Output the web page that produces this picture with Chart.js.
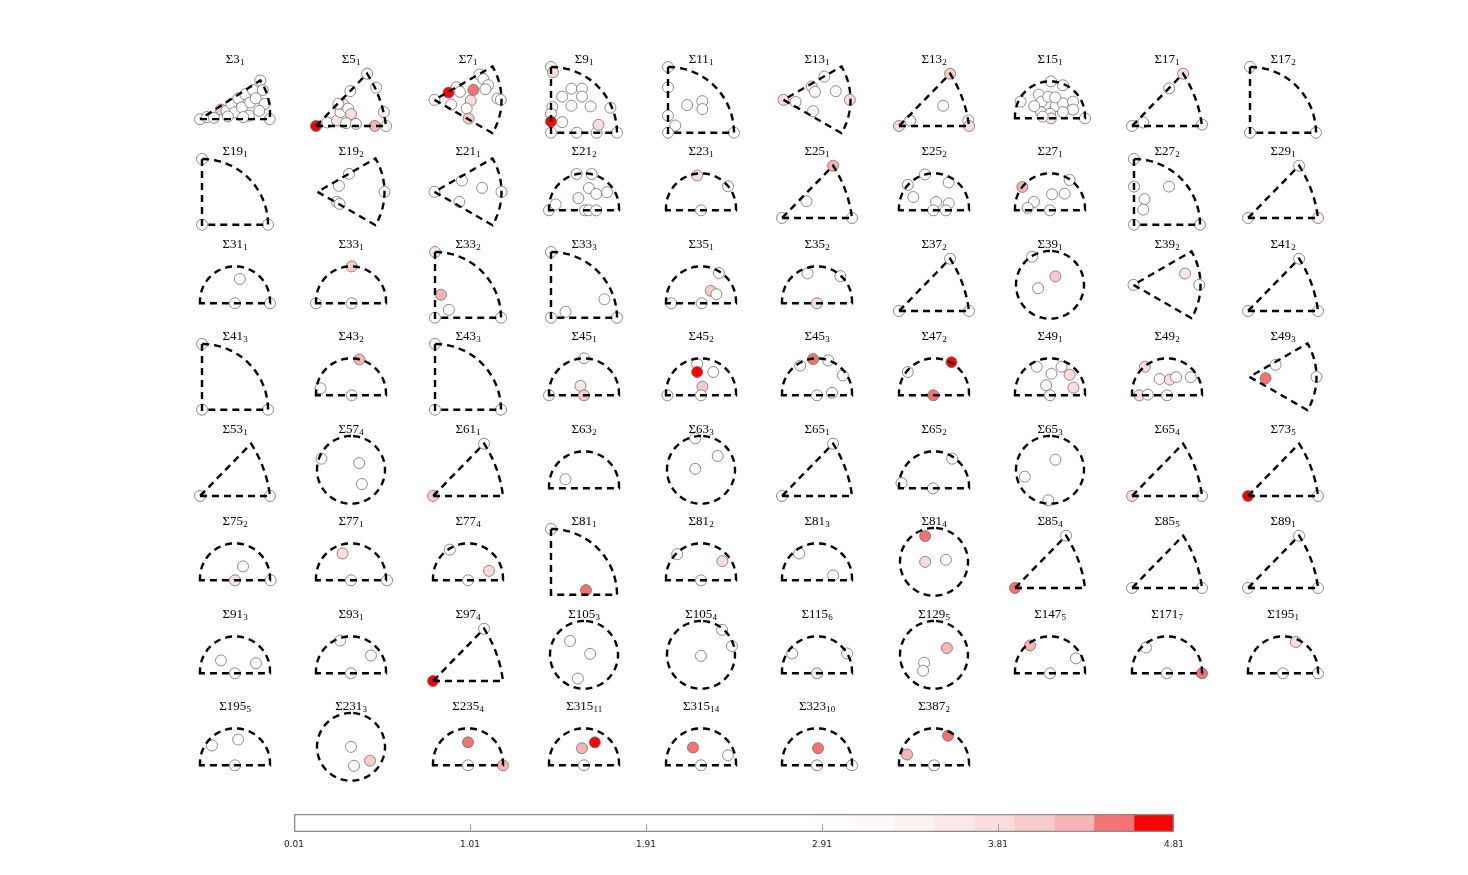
<!DOCTYPE html>
<html><head><meta charset="utf-8">
<script src="https://cdn.jsdelivr.net/npm/chart.js@4.4.1/dist/chart.umd.min.js"></script>
<style>
html,body{margin:0;padding:0;background:#fff;}
#fig{position:relative;width:1468px;height:875px;overflow:hidden;background:#fff;}
#fig canvas{position:absolute;}
</style></head><body><div id="fig"></div>
<script>
// ---------- DATA ----------
const sigmaNum = [3,5,7,9,11,13,13,15,17,17, 19,19,21,21,23,25,25,27,27,29, 31,33,33,33,35,35,37,39,39,41,
  41,43,43,45,45,45,47,49,49,49, 53,57,61,63,63,65,65,65,65,73, 75,77,77,81,81,81,81,85,85,89,
  91,93,97,105,105,115,129,147,171,195, 195,231,235,315,315,323,387];
const sigmaSub = [1,1,1,1,1,1,2,1,1,2, 1,2,1,2,1,1,2,1,2,1, 1,1,2,3,1,2,2,1,2,2,
  3,2,3,1,2,3,2,1,2,3, 1,4,1,2,3,1,2,3,4,5, 2,1,4,1,2,3,4,4,5,1,
  3,1,4,3,4,6,5,5,7,1, 5,3,4,11,14,10,2];
const shapeType = [
  'tri3','tri','sector','quarter','quarter','sector','tri','semi','tri','quarter',
  'quarter','sector','sector','semi','semi','tri','semi','semi','quarter','tri',
  'semi','semi','quarter','quarter','semi','semi','tri','circle','sector','tri',
  'quarter','semi','quarter','semi','semi','semi','semi','semi','semi','sector',
  'tri','circle','tri','semi','circle','tri','semi','circle','tri','tri',
  'semi','semi','semi','quarter','semi','semi','circle','tri','tri','tri',
  'semi','semi','tri','circle','circle','semi','circle','semi','semi','semi',
  'semi','circle','semi','semi','semi','semi','semi'];
const ptX = [
 [0,0.1,0.2,0.3,0.38,0.45,0.5,0.55,0.6,0.65,0.7,0.72,0.76,0.8,0.865,0.9,0.93,0.85,1,0.62,0.4],
 [0,0.16,0.3,0.35,0.39,0.49,0.32,0.46,0.5,0.43,0.57,0.73,0.86,0.97,0.84,1],
 [0,0.21,0.33,0.38,0.67,0.73,0.8,0.58,0.54,0.76,0.94,0.99,0.25,0.48,0.51],
 [0,0.03,0.17,0.31,0.47,0.47,0.31,0.6,0.9,0.02,0,0,0.17,0,0.39,0.69,0.72,1],
 [0,0,0,0.11,0,0.29,0.52,0.52,1],
 [0,0.18,0.42,0.47,0.61,0.78,0.99,0.44],
 [0.73,0.16,0,0.63,0.99,1],
 [-0.84,0.03,0.37,-0.32,-0.24,-0.05,0.16,0.37,0.66,0.66,-0.26,0,0.37,0.03,-0.21,1,-0.45,0.15],
 [0.73,0.53,0.16,0,1],
 [0,0,1],
 [0,0,1],
 [0.47,0.32,0.29,0.33,1],
 [0,0.41,0.71,1,0.37],
 [-1,-0.81,-0.21,0.22,0.14,0.35,0.66,-0.16,0.03,0.14,0.35],
 [-0.11,0.77,0],
 [0.73,0.35,0,1],
 [-0.75,-0.26,0.42,-0.59,0.06,0.42,-0.02,0.34],
 [-0.79,0.56,0.06,0.42,-0.46,-0.64,0],
 [0,0,0.16,0.14,0.53,0,1],
 [0.73,0,1],
 [0.14,0,1],
 [0.02,-1,0.02],
 [0,0.09,0.21,0,1],
 [0,0.22,0.81,0,1],
 [0.51,0.28,0.44,-0.85,0.02],
 [-0.27,0.67,0],
 [0.73,0,1],
 [-0.53,0.16,-0.35],
 [0,0.77,0.98],
 [0.73,0,1],
 [0,0,1],
 [0.24,-0.87,0.02],
 [0,0,1],
 [0,-0.1,0,-1],
 [-0.11,-0.11,0.35,0.04,0,-0.96],
 [-0.48,-0.11,0.32,0.74,0,0.43],
 [-0.75,0.5,-0.02],
 [-0.38,0.33,0.04,0.56,-0.11,0.67,0],
 [-0.63,-0.21,0.08,0.26,0.68,-0.79,-0.55,0],
 [0.39,0.24,1],
 [0,1],
 [-0.87,0.24,0.32],
 [0.73,0],
 [-0.53],
 [-0.17,0.49,-0.17],
 [0.73,0],
 [0.52,-0.93,-0.03],
 [0.16,-0.74,-0.05],
 [0,1],
 [0,1],
 [0.23,0,1.02],
 [-0.24,0,1.03],
 [-0.52,0.6,0],
 [0,0.53],
 [-0.68,0.61,0],
 [-0.51,0.46],
 [-0.26,-0.26,0.35],
 [0,0.73],
 [0,1],
 [0,0.73,1],
 [-0.4,0.6,0],
 [-0.31,0.57,0],
 [0,0.73],
 [-0.41,0.18,-0.18],
 [0.62,0.91,0],
 [-0.71,0.86,0],
 [0.38,-0.29,-0.32],
 [-0.57,0.74,0],
 [-0.6,0,1],
 [0.37,0,1],
 [-0.66,0.09,0],
 [0,0.09,0.56],
 [0,0,1],
 [-0.06,0.31,0],
 [-0.23,0.77,0],
 [0.03,0,1],
 [0.4,-0.77,0]];
const ptY = [
 [0,0.03,0.02,0.14,0.12,0.22,0.1,0.3,0.17,0.36,0.05,0.24,0.42,0.3,0.557,0.42,0.22,0.12,0,0.03,0.04],
 [0,0.05,0.08,0.2,0.31,0.5,0.32,0.25,0.17,0.04,0.03,0.75,0.55,0.2,0,0],
 [0,0.11,0.19,0.12,0.38,0.31,0.22,0.15,-0.01,0.16,0.02,0,-0.07,-0.13,-0.28],
 [1,0.92,0.55,0.67,0.67,0.55,0.41,0.4,0.38,0.39,0.29,0.17,0.16,0,0,0,0.12,0],
 [1,0.69,0.26,0.11,0,0.42,0.48,0.36,0],
 [0,-0.03,0.2,0.12,0.35,0.13,0,-0.17],
 [0.75,0.08,0,0.29,0.08,0],
 [0.48,1.06,0.95,0.68,0.48,0.62,0.35,0.43,0.48,0.25,0.18,0.13,0.18,0,0.05,0,0.35,0.6],
 [0.75,0.54,0.05,0,0.02],
 [1,0,0],
 [1,0,0],
 [0.27,0.09,-0.15,-0.18,0],
 [0,0.17,0.06,0,-0.15],
 [0,0.17,1.04,1.04,0.64,0.47,0.52,0.35,0,0,0],
 [1.0,0.69,0],
 [0.75,0.24,0,0],
 [0.73,1.03,0.8,0.38,0.24,0.2,0,0],
 [0.67,0.87,0.46,0.48,0.24,0.07,0],
 [1,0.58,0.39,0.23,0.58,0,0],
 [0.75,0,0],
 [0.7,0,0],
 [1.06,0,0],
 [1,0.35,0.12,0,0],
 [1,0.09,0.28,0,0],
 [0.87,0.36,0.26,0,0],
 [0.86,0.78,0],
 [0.75,0,0],
 [0.83,0.25,-0.1],
 [0,0.17,0],
 [0.75,0,0],
 [1,0,0],
 [1.03,0.2,0],
 [1,0,0],
 [1.06,0.27,0,0],
 [0.9,0.67,0.67,0.25,0,0],
 [0.85,1.04,1.0,0.57,0,0.07],
 [0.67,0.95,0],
 [0.82,0.82,0.62,0.59,0.29,0.22,0],
 [0.82,0.47,0.45,0.52,0.52,0,0.02,0],
 [0.18,-0.02,0],
 [0,0],
 [0.33,0.2,-0.42],
 [0.75,0],
 [0.26],
 [0.93,0.41,0.03],
 [0.75,0],
 [0.85,0.15,0],
 [0.3,-0.2,-0.9],
 [0,0],
 [0,0],
 [0.4,0,0],
 [0.77,0,0],
 [0.88,0.27,0],
 [1,0.07],
 [0.75,0.55,0],
 [0.77,0.14],
 [0.76,0,0.06],
 [0,0.75],
 [0,0],
 [0,0.75,0],
 [0.37,0.29,0],
 [0.94,0.51,0],
 [0,0.75],
 [0.41,0.03,-0.7],
 [0.74,0.26,-0.03],
 [0.57,0.57,0],
 [0.2,-0.23,-0.47],
 [0.8,0.43,0],
 [0.74,0,0],
 [0.9,0,0],
 [0.57,0.74,0],
 [0,-0.56,-0.41],
 [0.66,0,0],
 [0.49,0.66,0],
 [0.51,0.29,0],
 [0.49,0,0],
 [0.85,0.31,0]];
const ptV = [
 [1,1,1,4.0,1,1,1,1,1,1,1,1,1,1,1,1,1,1,1,1,1],
 [4.7,1,3.6,1,3.7,1,1,1,3.9,1,1,1,1,1,4.35,1],
 [1,4.7,1,1,1,1,1,4.4,3.9,1,1,1,1,1,4.0],
 [1,3.9,1,1,1,1,1,1,1,1,1,4.7,1,1,1,1,3.9,1],
 [1,1,1,1,1,1,1,1,1],
 [3.8,1,3.7,1,1,1,3.8,1],
 [4.0,1,3.8,1,1,3.8],
 [1,1,1,1,1,1,1,1,1,1,1,1,1,3.7,1,1,1,1],
 [3.9,1,1,1,3.3],
 [1,1,1],
 [1,1,1],
 [1,1,1,1,1],
 [1,1,1,1,1],
 [1,1,1,1,1,1,1,3.3,1,1,1],
 [3.8,1,1],
 [4.2,1,1,1],
 [1,1,1,1,1,1,1,1],
 [4.2,1,1,1,1,1,1],
 [1,1,1,1,1,1,1],
 [1,1,3.4],
 [1,1,1],
 [4.1,1,1],
 [3.7,4.3,1,1,1],
 [1,1,1,1,1],
 [1,4.0,1,1,1],
 [1,1,3.8],
 [1,1,1],
 [1,4.1,1],
 [1,3.7,1],
 [1,1,1],
 [1,1,1],
 [4.2,1,1],
 [1,1,1],
 [1,3.6,4.0,1],
 [1,4.7,1,4.0,1,1],
 [1,4.45,1,1,1,1],
 [1,4.75,4.5],
 [1,1,1,3.9,3.3,3.9,1],
 [3.8,1,3.9,1,1,3.8,1,1],
 [1,4.45,1],
 [1,1],
 [1,1,1],
 [1,4.0],
 [1],
 [1,1,1],
 [1,1],
 [1,1,1],
 [1,1,1],
 [3.9,1],
 [4.7,1],
 [1,3.6,1],
 [3.8,1,1],
 [1,3.9,1],
 [1,4.5],
 [1,3.9,1],
 [1,1],
 [4.4,3.9,1],
 [4.5,1],
 [1,1],
 [1,1,1],
 [1,1,1],
 [1,1,1],
 [4.75,1],
 [1,1,1],
 [1,1,1],
 [1,1,3.7],
 [4.3,1,1],
 [4.3,1,1],
 [1,1,4.5],
 [3.8,1,1],
 [1,1,1],
 [1,1,4.0],
 [4.45,1,4.2],
 [4.25,4.75,1],
 [4.45,1,1],
 [4.4,1,1],
 [4.45,4.35,1]];
// colour bar
const cbMin = 0.01, cbMax = 4.81;
const cbColors = ['#ffffff','#ffffff','#ffffff','#ffffff','#ffffff','#ffffff','#ffffff','#ffffff',
  '#ffffff','#ffffff','#ffffff','#ffffff','#ffffff','#fffcfc','#fef8f8','#fdf2f2','#fce8e8',
  '#fbdddd','#f9cccc','#f6b4b4','#f37272','#ff0000'];
const cbTickLabels = ['0.01','1.01','1.91','2.91','3.81','4.81'];

// ---------- DRAWING ----------
const H0 = 0.06;
const TRI = {ax:0.73, ay:0.75, b:0.045}, TRI3 = {ax:0.865, ay:0.557, b:0.05};
const shapePx = {semi:70, tri:70, tri3:70, circle:68, quarter:66, sector:67};
const NSEG = cbColors.length;
const colorOf = v => cbColors[Math.max(0, Math.min(NSEG-1, Math.floor((v-cbMin)/((cbMax-cbMin)/NSEG))))];

function outline(shape){
  const P = [];
  const arc = (cx,cy,r,a0,a1,n) => { for(let k=0;k<=n;k++){ const a=a0+(a1-a0)*k/n; P.push({x:cx+r*Math.cos(a), y:cy+r*Math.sin(a)}); } };
  if (shape==='semi'){ P.push({x:-1,y:H0},{x:-1,y:0},{x:1,y:0},{x:1,y:H0}); arc(0,H0,1,0,Math.PI,64); }
  else if (shape==='circle'){ arc(0,0,1,Math.PI/2,Math.PI/2+2*Math.PI,128); }
  else if (shape==='quarter'){ P.push({x:0,y:1},{x:0,y:0},{x:1,y:0}); arc(0,0,1,0,Math.PI/2,40); }
  else if (shape==='sector'){ P.push({x:0,y:0}); arc(0,0,1,-Math.PI/6,Math.PI/6,30); P.push({x:0,y:0}); }
  else {
    const t = shape==='tri3' ? TRI3 : TRI;
    P.push({x:0,y:0},{x:1,y:0});
    const dx=t.ax-1, dy=t.ay, L=Math.hypot(dx,dy), nx=dy/L, ny=-dx/L;
    const mx=(1+t.ax)/2+2*t.b*nx, my=t.ay/2+2*t.b*ny;
    for(let k=1;k<=24;k++){ const s=k/24;
      P.push({x:(1-s)*(1-s)+2*(1-s)*s*mx+s*s*t.ax, y:2*(1-s)*s*my+s*s*t.ay}); }
    P.push({x:0,y:0});
  }
  return P;
}

// title with a real subscript (Σ n with subscript k), drawn through the Chart.js plugin API
const sigmaTitle = {
  id:'sigmaTitle',
  afterDraw(ch, args, o){
    const ctx=ch.ctx; ctx.save();
    const big="13px 'Liberation Serif','DejaVu Serif',serif", small="9px 'Liberation Serif','DejaVu Serif',serif";
    ctx.font=big; const w1=ctx.measureText(o.main).width;
    ctx.font=small; const w2=ctx.measureText(o.sub).width;
    const x0=ch.width/2-(w1+w2)/2;
    ctx.fillStyle='#000'; ctx.textBaseline='alphabetic'; ctx.textAlign='left';
    ctx.font=big; ctx.fillText(o.main, x0, 13.5);
    ctx.font=small; ctx.fillText(o.sub, x0+w1+0.3, 16);
    ctx.restore();
  }
};

const fig = document.getElementById('fig');
const COL0=235, COLSTEP=116.45, ROW0=58, ROWSTEP=92.43, CW=116, CH=92, BOX=70;
sigmaNum.forEach((n,i)=>{
  const r=Math.floor(i/10), c=i%10;
  const cx=COL0+COLSTEP*c, ty=ROW0+ROWSTEP*r;
  const cv=document.createElement('canvas');
  cv.width=CW; cv.height=CH;
  cv.style.left=Math.round(cx-CW/2)+'px'; cv.style.top=Math.round(ty-9)+'px';
  fig.appendChild(cv);
  const sh=shapeType[i];
  const ol=outline(sh);
  const xs=ol.map(p=>p.x), ys=ol.map(p=>p.y);
  const x0=Math.min(...xs), x1=Math.max(...xs), y0=Math.min(...ys), y1=Math.max(...ys);
  const half=Math.max(x1-x0,y1-y0)/2*BOX/shapePx[sh], mx=(x0+x1)/2, my=(y0+y1)/2;
  const pts=ptX[i].map((x,k)=>({x:x, y:ptY[i][k]}));
  new Chart(cv,{
    type:'scatter',
    data:{datasets:[
      {data:ol, showLine:true, borderColor:'#000', borderWidth:2.4, borderDash:[7,5],
       borderJoinStyle:'miter', borderCapStyle:'butt', pointRadius:0, pointHoverRadius:0, fill:false, tension:0, clip:false},
      {data:pts, pointRadius:5.5, pointHoverRadius:5.5, pointBackgroundColor:ptV[i].map(colorOf),
       pointBorderColor:'#6e6e6e', pointBorderWidth:0.8, clip:false}
    ]},
    plugins:[sigmaTitle],
    options:{
      responsive:false, animation:false, devicePixelRatio:1, events:[],
      layout:{padding:{left:(CW-BOX)/2, right:(CW-BOX)/2, top:16, bottom:6}},
      plugins:{legend:{display:false}, tooltip:{enabled:false}, title:{display:false},
        sigmaTitle:{main:'\u03A3'+n, sub:String(sigmaSub[i])}},
      scales:{
        x:{type:'linear', display:false, min:mx-half, max:mx+half},
        y:{type:'linear', display:false, min:my-half, max:my+half}
      }
    }
  });
});

// colour bar
(function(){
  const cv=document.createElement('canvas');
  cv.width=920; cv.height=66;
  cv.style.left='274px'; cv.style.top='800px';
  fig.appendChild(cv);
  const step=(cbMax-cbMin)/NSEG;
  const tickStep=(cbMax-cbMin)/(cbTickLabels.length-1);
  const tickPos=cbTickLabels.map((_,k)=>cbMin+k*tickStep);
  const datasets=[{data:[[cbMin,cbMax]], backgroundColor:'rgba(0,0,0,0)', borderColor:'#8c8c8c', borderWidth:1,
    borderSkipped:false, grouped:false, barPercentage:1, categoryPercentage:1}];
  cbColors.forEach((col,k)=>datasets.push({data:[[cbMin+k*step, cbMin+(k+1)*step]], backgroundColor:col,
    borderWidth:0, grouped:false, barPercentage:1, categoryPercentage:1}));
  const tickMarks={id:'cbTicks', afterDatasetsDraw(ch){
    const ctx=ch.ctx, a=ch.chartArea, sx=ch.scales.x;
    ctx.save(); ctx.strokeStyle='#9a9a9a'; ctx.lineWidth=1;
    tickPos.slice(1,-1).forEach(v=>{ const px=Math.round(sx.getPixelForValue(v))+0.5;
      ctx.beginPath(); ctx.moveTo(px,a.bottom); ctx.lineTo(px,a.bottom-8); ctx.stroke(); });
    ctx.restore(); }};
  new Chart(cv,{
    type:'bar',
    data:{labels:[''], datasets},
    plugins:[tickMarks],
    options:{
      indexAxis:'y', responsive:false, animation:false, devicePixelRatio:1, events:[],
      layout:{padding:{left:20,right:20,top:14,bottom:16}},
      plugins:{legend:{display:false}, tooltip:{enabled:false}},
      scales:{
        x:{type:'linear', min:cbMin, max:cbMax,
           afterBuildTicks:s=>{ s.ticks=tickPos.map(v=>({value:v})); },
           ticks:{callback:(v,k)=>cbTickLabels[k], autoSkip:false, maxRotation:0, padding:7, color:'#222',
             font:{family:"'DejaVu Sans',sans-serif", size:9}},
           grid:{display:false, drawTicks:false}, border:{display:false}},
        y:{display:false}
      }
    }
  });
})();
</script></body></html>
